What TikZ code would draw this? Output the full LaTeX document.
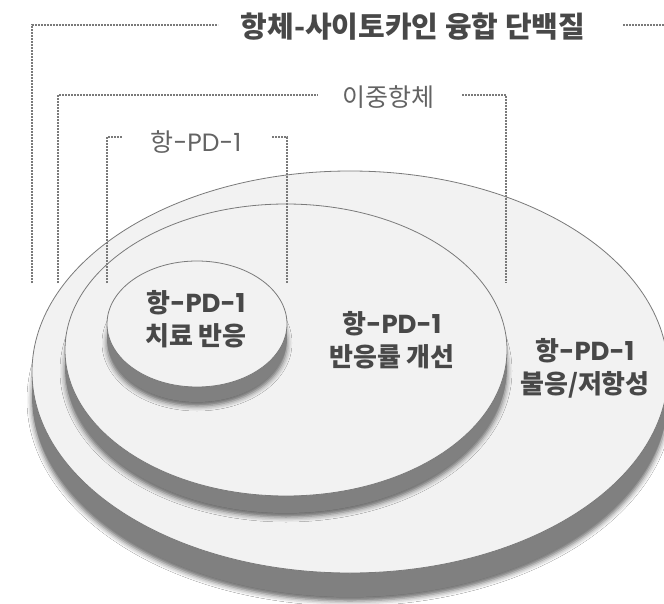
\documentclass[tikz,border=0pt]{standalone}
\usepackage{fontspec}
\setmainfont{Noto Sans CJK KR}
\newfontfamily\lat{Poppins}
\usetikzlibrary{shadows.blur}
\definecolor{facec}{HTML}{F2F2F2}
\definecolor{sidec}{HTML}{808080}
\definecolor{edgec}{HTML}{7A7A7A}
\definecolor{txtc}{HTML}{484848}
\definecolor{dotc}{HTML}{7A7A7A}
\tikzset{
  dotline/.style={draw=dotc, line width=1.6pt, dash pattern=on 1.6pt off 1.4pt},
  face/.style={fill=facec, draw=edgec, line width=0.8pt},
  side/.style={fill=sidec, draw=none},
  lbl/.style={text=txtc, font=\bfseries\fontsize{26}{33}\selectfont, align=center, inner sep=0pt},
  toplbl/.style={text=txtc!85, font=\fontsize{25}{28}\selectfont, inner sep=0pt},
  titlelbl/.style={text=txtc, font=\bfseries\fontsize{29}{32}\selectfont, inner sep=0pt}
}
\newcommand{\pd}{{\lat -PD-1}}
\newcommand{\diskdraw}[5]{% cx, cy, rx, ry, thickness
  \fill[sidec, blur shadow={shadow xshift=0pt, shadow yshift=-4pt, shadow blur radius=5pt, shadow opacity=60}] (#1,#2+#5) ellipse [x radius=#3, y radius=#4];
  \fill[side] (#1-#3,#2) rectangle (#1+#3,#2+#5);
  \path[face] (#1,#2) ellipse [x radius=#3, y radius=#4];
}
\begin{document}
\begin{tikzpicture}[x=1pt, y=-1pt]
\useasboundingbox (0,0) rectangle (664,604);
\fill[white] (0,0) rectangle (664,604);

% discs
\diskdraw{350}{372}{318}{201}{24}
\diskdraw{286}{350}{221}{146}{17}
\diskdraw{197}{324}{90}{63}{15}

% brackets
\coordinate (a1) at (32,283);
\coordinate (a2) at (32,25);
\coordinate (a3) at (218,25);
\coordinate (a4) at (623,25);
\coordinate (a5) at (664,25);
\coordinate (b1) at (58,283);
\coordinate (b2) at (58,95);
\coordinate (b3) at (318,95);
\coordinate (b4) at (462,95);
\coordinate (b5) at (506,95);
\coordinate (b6) at (506,283);
\coordinate (c1) at (107,283);
\coordinate (c2) at (107,137);
\coordinate (c3) at (122,137);
\coordinate (c4) at (272,137);
\coordinate (c5) at (287,137);
\coordinate (c6) at (287,283);
\draw[dotline] (a1) -- (a2) -- (a3);
\draw[dotline] (a4) -- (a5);
\draw[dotline] (b1) -- (b2) -- (b3);
\draw[dotline] (b4) -- (b5) -- (b6);
\draw[dotline] (c1) -- (c2) -- (c3);
\draw[dotline] (c4) -- (c5) -- (c6);

\node[titlelbl] (title) at (413,27) {항체-사이토카인 융합 단백질};
\node[toplbl] (bisp) at (388,97) {이중항체};
\node[toplbl] (apd) at (196,142) {항\pd};

\node[lbl] (inner) at (196,319) {항\pd\\치료 반응};
\node[lbl] (middle) at (392,340) {항\pd\\반응률 개선};
\node[lbl] (outer) at (585,368) {항\pd\\불응/저항성};
\end{tikzpicture}
\end{document}
